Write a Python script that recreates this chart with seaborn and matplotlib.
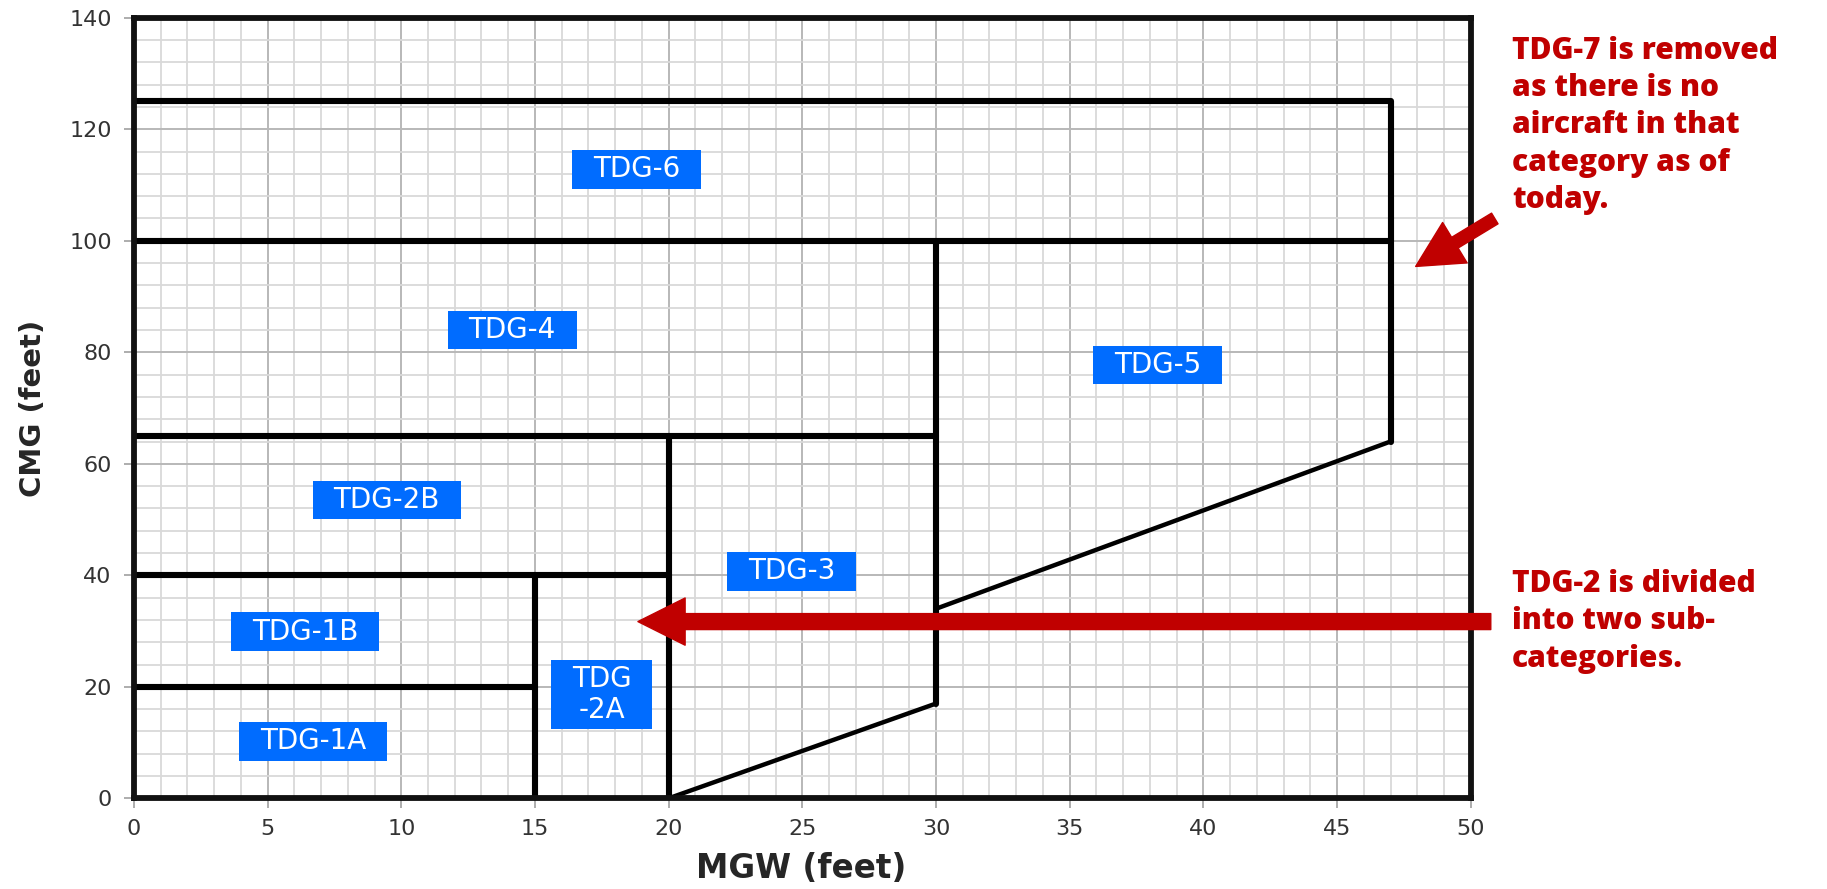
import matplotlib
matplotlib.use("Agg")
import matplotlib.pyplot as plt
import seaborn as sns
import pandas as pd

# boundary polylines (MGW, CMG) in feet
thick_lines = {
    "tdg6": ([0, 47, 47], [125, 125, 64]),
    "top100": ([0, 47], [100, 100]),
    "x30": ([30, 30], [100, 17]),
    "y65": ([0, 30], [65, 65]),
    "x20": ([20, 20], [65, 0]),
    "y40": ([0, 20], [40, 40]),
    "x15": ([15, 15], [40, 0]),
    "y20": ([0, 15], [20, 20]),
}
thin_lines = {
    "slant_low": ([20, 30], [0, 17]),
    "slant_high": ([30, 47], [34, 64]),
}

# group labels and where they sit
group_names = ["TDG-6", "TDG-4", "TDG-5", "TDG-2B", "TDG-3", "TDG-1B", "TDG\n-2A", "TDG-1A"]
group_x = [18.8, 14.15, 38.3, 9.45, 24.6, 6.4, 17.5, 6.7]
group_y = [112.8, 84.0, 77.7, 53.5, 40.7, 29.9, 18.6, 10.2]

x_ticks = list(range(0, 51, 5))
y_ticks = list(range(0, 141, 20))

note_top = "TDG-7 is removed\nas there is no\naircraft in that\ncategory as of\ntoday."
note_mid = "TDG-2 is divided\ninto two sub-\ncategories."

red = "#C00000"
blue = "#006CFF"


def to_frame(lines):
    rows = []
    for name, (xs, ys) in lines.items():
        for i, (x, y) in enumerate(zip(xs, ys)):
            rows.append({"seg": name, "order": i, "MGW": x, "CMG": y})
    return pd.DataFrame(rows)


sns.set_style("white")
plt.rcParams["font.family"] = ["DejaVu Sans"]

fig = plt.figure(figsize=(18.27, 8.89), dpi=100)
ax = fig.add_axes([0.0733, 0.102, 0.7317, 0.878])

ax.set_xlim(0, 50)
ax.set_ylim(0, 140)
ax.set_xticks(x_ticks)
ax.set_yticks(y_ticks)
ax.set_xticks(range(0, 51, 1), minor=True)
ax.set_yticks(range(0, 141, 4), minor=True)
ax.grid(which="minor", color="#d9d9d9", lw=1.3)
ax.grid(which="major", color="#b8b8b8", lw=1.4)
ax.set_axisbelow(True)

ax.tick_params(which="major", direction="out", length=7, width=1.2, color="#a0a0a0",
               labelsize=16, labelcolor="#333333", pad=8, bottom=True, left=True)
ax.tick_params(axis="y", pad=9)
ax.tick_params(which="minor", length=0)

for s in ax.spines.values():
    s.set_color("#111111")
    s.set_linewidth(4.2)

sns.lineplot(data=to_frame(thick_lines), x="MGW", y="CMG", units="seg", estimator=None,
             sort=False, color="black", lw=4.4, ax=ax, legend=False)
sns.lineplot(data=to_frame(thin_lines), x="MGW", y="CMG", units="seg", estimator=None,
             sort=False, color="black", lw=3.2, ax=ax, legend=False)

for name, x, y in zip(group_names, group_x, group_y):
    ax.text(x, y, name, ha="center", va="center", fontsize=20, color="white",
            linespacing=1.15,
            bbox=dict(boxstyle="square,pad=0.75", mutation_aspect=0.25, fc=blue, ec="none"))

ax.set_xlabel("MGW (feet)", fontsize=23.5, fontweight="bold")
ax.set_ylabel("CMG (feet)", fontsize=21, fontweight="bold")
ax.xaxis.set_label_coords(0.499, -0.09)
ax.xaxis.label.set_va("center")
ax.yaxis.set_label_coords(-0.0755, 0.5)
ax.yaxis.label.set_va("center")

# red call-out arrows
ax.annotate("", xy=(18.85, 31.7), xytext=(50.75, 31.7), annotation_clip=False,
            arrowprops=dict(width=11.5, headwidth=34, headlength=34, shrink=0,
                            fc=red, ec=red))
ax.annotate("", xy=(47.94, 95.4), xytext=(50.9, 104), annotation_clip=False,
            arrowprops=dict(width=9, headwidth=34, headlength=33, shrink=0,
                            fc=red, ec=red))

fig.text(0.8276, 0.960, note_top, ha="left", va="top", fontsize=21.5, color=red,
         fontweight="heavy", family=["Open Sans", "DejaVu Sans"], linespacing=1.32)
fig.text(0.8276, 0.360, note_mid, ha="left", va="top", fontsize=21.5, color=red,
         fontweight="heavy", family=["Open Sans", "DejaVu Sans"], linespacing=1.32)

fig.savefig("out.png", dpi=100)
